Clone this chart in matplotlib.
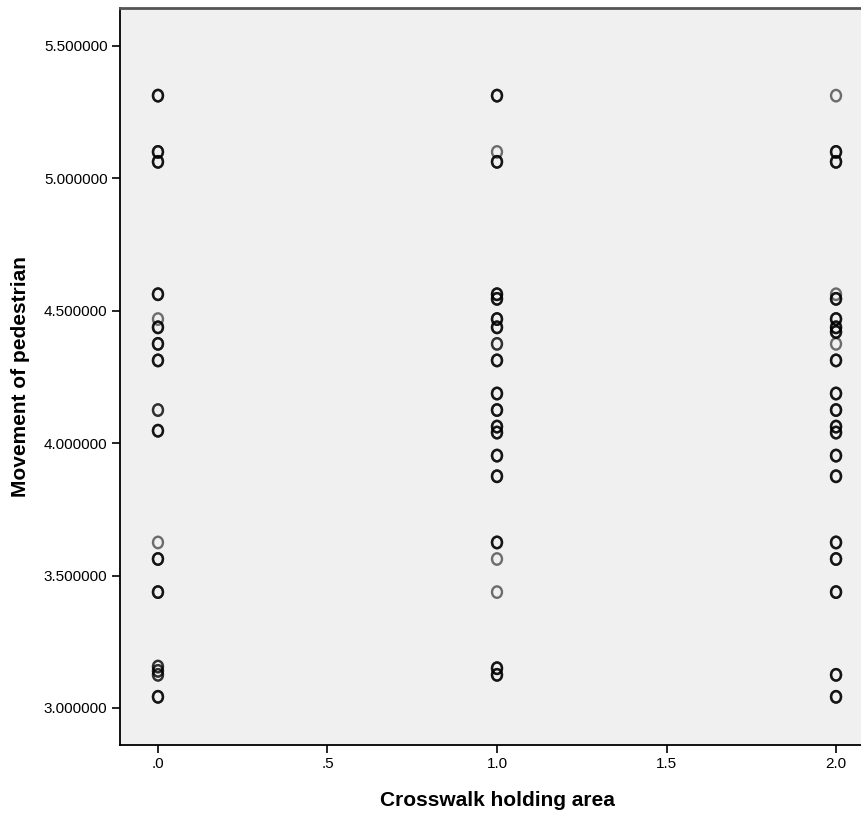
import matplotlib
matplotlib.use("Agg")
import matplotlib.pyplot as plt
import numpy as np
from matplotlib.path import Path
from matplotlib.transforms import Affine2D

# Data: holding area category, movement values, and how many cases share each value
y0 = [5.3125, 5.100, 5.0625, 4.5625, 4.46875, 4.4375, 4.375, 4.3125, 4.125, 4.047,
      3.625, 3.5625, 3.4375, 3.15625, 3.140, 3.125, 3.042]
n0 = [3, 3, 3, 3, 1, 3, 3, 3, 2, 3,
      1, 3, 3, 2, 2, 2, 3]
x0 = [0.0] * len(y0)

y1 = [5.3125, 5.100, 5.0625, 4.5625, 4.545, 4.46875, 4.4375, 4.375, 4.3125, 4.1875,
      4.125, 4.0625, 4.040, 3.953, 3.875, 3.625, 3.5625, 3.4375, 3.150, 3.125]
n1 = [3, 1, 3, 3, 3, 3, 3, 2, 3, 3,
      3, 3, 3, 3, 3, 3, 1, 1, 3, 3]
x1 = [1.0] * len(y1)

y2 = [5.3125, 5.100, 5.0625, 4.5625, 4.545, 4.46875, 4.4375, 4.420, 4.375, 4.3125,
      4.1875, 4.125, 4.0625, 4.040, 3.953, 3.875, 3.625, 3.5625, 3.4375, 3.125, 3.042]
n2 = [1, 3, 3, 1, 3, 3, 3, 3, 1, 3,
      3, 3, 3, 3, 3, 3, 3, 3, 3, 3, 3]
x2 = [2.0] * len(y2)

x_ticks = [0.0, 0.5, 1.0, 1.5, 2.0]
x_ticklabels = [".0", ".5", "1.0", "1.5", "2.0"]
y_ticks = [3.0, 3.5, 4.0, 4.5, 5.0, 5.5]
y_ticklabels = ["3.000000", "3.500000", "4.000000", "4.500000", "5.000000", "5.500000"]

plt.rcParams['font.family'] = ['Liberation Sans', 'DejaVu Sans']

fig = plt.figure(figsize=(8.62, 8.25), dpi=100)
ax = fig.add_axes([120/862, 80/825, (874-120)/862, (745-8)/825])
ax.set_facecolor('#f0f0f0')

# slightly tall oval marker
circ = Path.unit_circle()
oval = circ.transformed(Affine2D().scale(1.0, 1.15))

for xs, ys, ns in [(x0, y0, n0), (x1, y1, n1), (x2, y2, n2)]:
    xx = np.repeat(xs, ns)
    yy = np.repeat(ys, ns)
    ax.scatter(xx, yy, marker=oval, s=68, facecolors='none',
               edgecolors=(0, 0, 0, 0.55), linewidths=1.7, zorder=3)

ax.set_xlim(-0.112, 2.112)
ax.set_ylim(2.860, 5.6435)
ax.set_xticks(x_ticks)
ax.set_xticklabels(x_ticklabels)
ax.set_yticks(y_ticks)
ax.set_yticklabels(y_ticklabels)
ax.tick_params(axis='both', direction='out', length=6, width=1.2, labelsize=11,
               colors='black', pad=3)
for s in ['left', 'bottom']:
    ax.spines[s].set_color('black')
    ax.spines[s].set_linewidth(1.3)
ax.spines['top'].set_color('#555555')
ax.spines['top'].set_linewidth(2)
ax.spines['right'].set_visible(False)

ax.set_xlabel("Crosswalk holding area", fontsize=15, fontweight='bold', labelpad=14)
ax.set_ylabel("Movement of pedestrian", fontsize=15, fontweight='bold', labelpad=10)

fig.savefig("out.png", dpi=100)
